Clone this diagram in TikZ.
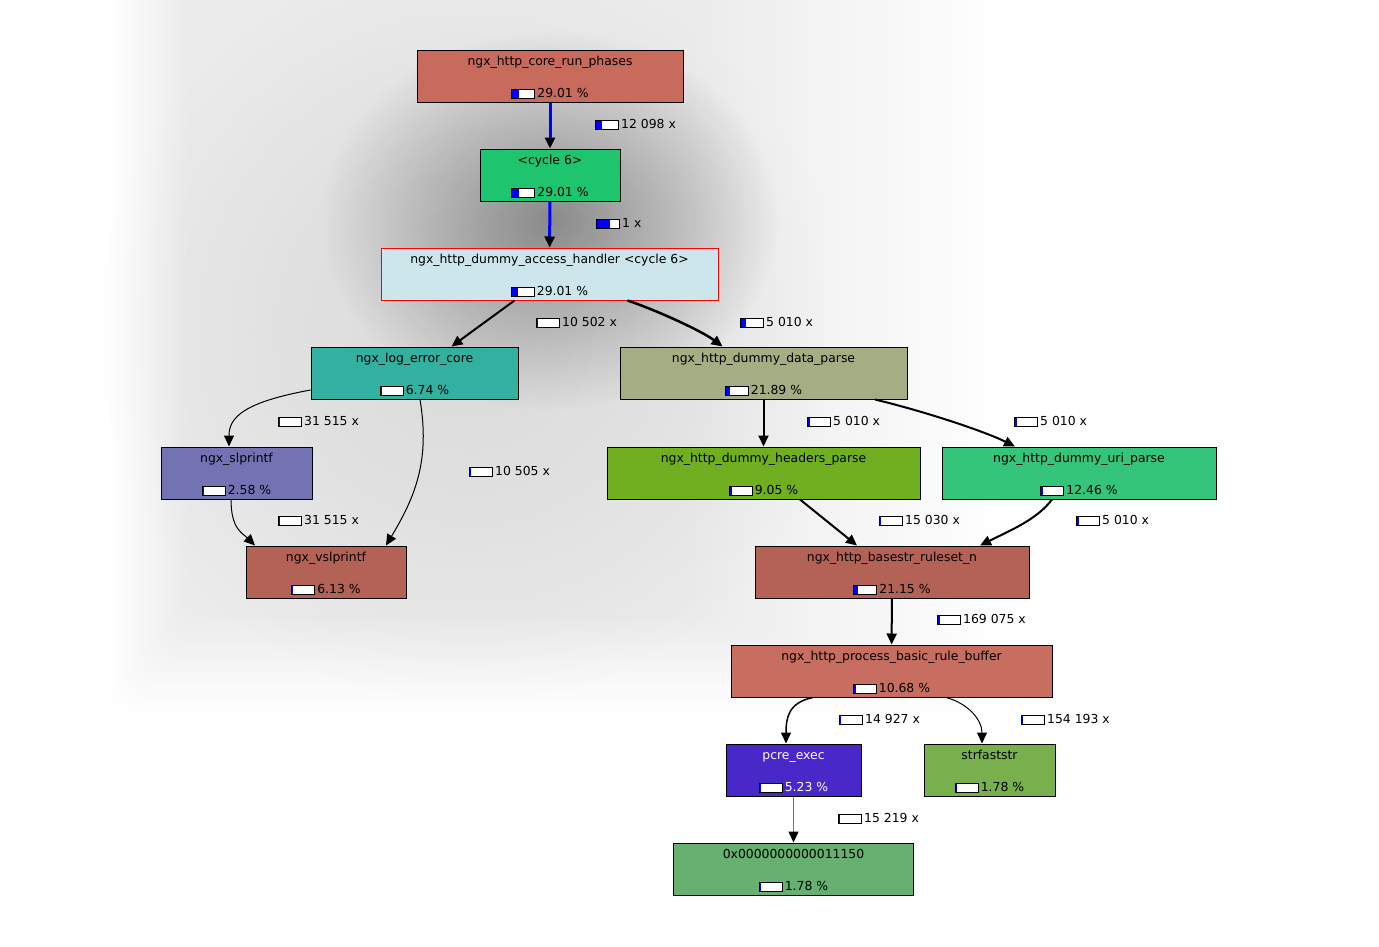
\documentclass[tikz,border=0pt]{standalone}
\usepackage{fontspec}
\setmainfont{DejaVu Sans}
\usepackage{xcolor}
\usepackage{tikz}
\usetikzlibrary{arrows.meta, positioning, calc, fadings}

\definecolor{cRun}{RGB}{200,106,92}
\definecolor{cCyc}{RGB}{30,196,110}
\definecolor{cAcc}{RGB}{205,230,235}
\definecolor{cLog}{RGB}{50,176,160}
\definecolor{cData}{RGB}{165,173,130}
\definecolor{cSlp}{RGB}{115,115,180}
\definecolor{cVslp}{RGB}{180,98,86}
\definecolor{cHdr}{RGB}{112,176,32}
\definecolor{cUri}{RGB}{52,196,122}
\definecolor{cBstr}{RGB}{180,98,86}
\definecolor{cRbuf}{RGB}{200,110,96}
\definecolor{cPcre}{RGB}{72,40,200}
\definecolor{cStrf}{RGB}{120,176,78}
\definecolor{cHex}{RGB}{102,176,112}

% little cost bar in front of a number
\newlength{\barlen}\setlength{\barlen}{22pt}
\newcommand{\pbar}[1]{{\setlength{\fboxsep}{0pt}\setlength{\fboxrule}{1pt}%
  \raisebox{-1pt}{\fcolorbox{black}{white}{\makebox[\barlen][l]{\textcolor{blue}{\rule{#1\barlen}{8pt}}}}}}\hspace{2pt}}
\newcommand{\fname}[1]{\rule{0pt}{12.4pt}#1\\[17pt]}

\tikzfading[name=shadowfade, inner color=transparent!0, outer color=transparent!100]

\begin{document}
\begin{tikzpicture}[x=1pt, y=-1pt,
        fn/.style={draw=black, line width=1pt, minimum height=52pt, inner sep=0pt, align=center, font=\fontsize{12.4}{15}\selectfont},
        cnt/.style={anchor=west, inner sep=0pt, yshift=-1.5pt, font=\fontsize{12.4}{15}\selectfont},
        call/.style={-{Triangle[length=11pt, width=10pt, color=black]}, line width=2pt, black},
        hot/.style={call, draw=blue, line width=3pt},
        thin/.style={-{Triangle[length=11pt, width=10pt, color=black]}, line width=1pt, black}
    ]

    % Background and shadow
    \useasboundingbox (0,0) rectangle (1379,946);
    \fill[white] (0,0) rectangle (1379,946);
    \foreach \i in {0,...,19}
        \fill[black, opacity=0.0035, rounded corners=20pt] (110+\i*4,-40) rectangle (1000-\i*16,712-\i*5);
    \fill[black, opacity=0.08, path fading=shadowfade] (470,330) ellipse [x radius=380, y radius=380];
    \fill[black, opacity=0.38, path fading=shadowfade] (550,220) ellipse [x radius=230, y radius=190];

    % Functions
    \node[fn, fill=cRun, minimum width=266pt] (run) at (550,76) {\fname{ngx\_http\_core\_run\_phases}\pbar{.28}29.01 \%};
    \node[fn, fill=cCyc, minimum width=140pt] (cyc) at (550,175) {\fname{<cycle 6>}\pbar{.28}29.01 \%};
    \node[fn, fill=cAcc, draw=red, minimum width=337pt] (access) at (549.5,274) {\fname{ngx\_http\_dummy\_access\_handler <cycle 6>}\pbar{.28}29.01 \%};
    \node[fn, fill=cLog, minimum width=207pt] (logerr) at (414.5,373) {\fname{ngx\_log\_error\_core}\pbar{.04}6.74 \%};
    \node[fn, fill=cData, minimum width=287pt] (data) at (763.5,373) {\fname{ngx\_http\_dummy\_data\_parse}\pbar{.2}21.89 \%};
    \node[fn, fill=cSlp, minimum width=151pt] (slp) at (236.5,473) {\fname{ngx\_slprintf}\pbar{.03}2.58 \%};
    \node[fn, fill=cVslp, minimum width=160pt] (vslp) at (326,572) {\fname{ngx\_vslprintf}\pbar{.03}6.13 \%};
    \node[fn, fill=cHdr, minimum width=313pt] (hdr) at (763.5,473) {\fname{ngx\_http\_dummy\_headers\_parse}\pbar{.08}9.05 \%};
    \node[fn, fill=cUri, minimum width=274pt] (uri) at (1079,473) {\fname{ngx\_http\_dummy\_uri\_parse}\pbar{.07}12.46 \%};
    \node[fn, fill=cBstr, minimum width=274pt] (bstr) at (892,572) {\fname{ngx\_http\_basestr\_ruleset\_n}\pbar{.17}21.15 \%};
    \node[fn, fill=cRbuf, minimum width=321pt] (rbuf) at (891.5,671) {\fname{ngx\_http\_process\_basic\_rule\_buffer}\pbar{.1}10.68 \%};
    \node[fn, fill=cPcre, text=white, minimum width=135pt] (pcre) at (793.5,770) {\fname{pcre\_exec}\pbar{.03}5.23 \%};
    \node[fn, fill=cStrf, minimum width=131pt] (strf) at (989.5,770) {\fname{strfaststr}\pbar{.02}1.78 \%};
    \node[fn, fill=cHex, minimum width=240pt] (hex) at (793.5,869) {\fname{0x0000000000011150}\pbar{.02}1.78 \%};

    % Calls
    \draw[hot] (run) -- (cyc);
    \draw[hot] (cyc) -- (access);
    \draw[call] ([xshift=-35pt]access.south) -- ([xshift=37pt]logerr.north);
    \draw[call, line width=2.5pt] ([xshift=78pt]access.south) .. controls +(30,10) and +(-20,-15) .. ([xshift=-41pt]data.north);
    \draw[thin] ([yshift=-17pt]logerr.west) .. controls +(-65,12) and +(0,-30) .. ([xshift=-7.5pt]slp.north);
    \draw[thin] ([xshift=5.5pt]logerr.south) .. controls +(10,60) and +(30,-50) .. ([xshift=60pt]vslp.north);
    \draw[thin] ([xshift=-5.5pt]slp.south) .. controls +(0,30) and +(-12,-12) .. ([xshift=-71pt]vslp.north);
    \draw[call] (data) -- (hdr);
    \draw[call] ([xshift=111.5pt]data.south) .. controls +(50,12) and +(-30,-15) .. ([xshift=-64pt]uri.north);
    \draw[call] ([xshift=36.5pt]hdr.south) -- ([xshift=-35pt]bstr.north);
    \draw[call] ([xshift=-27pt]uri.south) .. controls +(-15,20) and +(30,-15) .. ([xshift=88pt]bstr.north);
    \draw[call] (bstr) -- (rbuf);
    \draw[call, line width=1.5pt] ([xshift=-78.5pt]rbuf.south) .. controls +(-25,5) and +(0,-25) .. ([xshift=-7.5pt]pcre.north);
    \draw[thin] ([xshift=54.5pt]rbuf.south) .. controls +(20,5) and +(0,-25) .. ([xshift=-7.5pt]strf.north);
    \draw[thin, draw=black!55, line width=1.5pt] (pcre) -- (hex);

    % Call counts
    \node[cnt] (n1) at (595,123) {\pbar{.28}12 098 x};
    \node[cnt] (n2) at (596,222) {\pbar{.58}1 x};
    \node[cnt] (n3) at (536,321) {\pbar{.03}10 502 x};
    \node[cnt] (n4) at (740,321) {\pbar{.2}5 010 x};
    \node[cnt] (n5) at (278,420) {\pbar{.02}31 515 x};
    \node[cnt] (n6) at (469,470) {\pbar{.03}10 505 x};
    \node[cnt] (n7) at (278,519) {\pbar{.02}31 515 x};
    \node[cnt] (n8) at (807,420) {\pbar{.08}5 010 x};
    \node[cnt] (n9) at (1014,420) {\pbar{.08}5 010 x};
    \node[cnt] (n10) at (879,519) {\pbar{.04}15 030 x};
    \node[cnt] (n11) at (1076,519) {\pbar{.08}5 010 x};
    \node[cnt] (n12) at (937,618) {\pbar{.1}169 075 x};
    \node[cnt] (n13) at (839,718) {\pbar{.03}14 927 x};
    \node[cnt] (n14) at (1021,718) {\pbar{.03}154 193 x};
    \node[cnt] (n15) at (838,817) {\pbar{.02}15 219 x};

\end{tikzpicture}
\end{document}
